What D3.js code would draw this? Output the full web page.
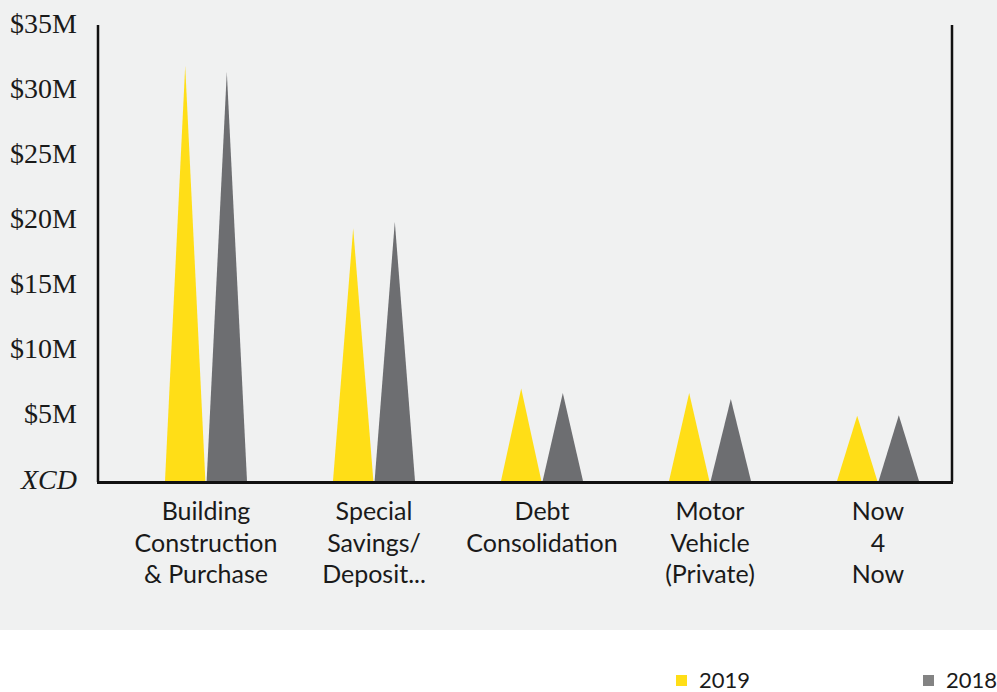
<!DOCTYPE html>
<html>
<head>
<meta charset="utf-8">
<script src="https://cdn.jsdelivr.net/npm/d3@7"></script>
<style>
  html, body { margin: 0; padding: 0; background: #ffffff; }
  svg { display: block; }
</style>
</head>
<body>
<div id="chart"></div>
<script>
// Loan purpose totals, in millions of XCD
const categories = [
  ["Building", "Construction", "& Purchase"],
  ["Special", "Savings/", "Deposit..."],
  ["Debt", "Consolidation"],
  ["Motor", "Vehicle", "(Private)"],
  ["Now", "4", "Now"]
];
const seriesNames = ["2019", "2018"];
const values2019 = [31.85, 19.4, 7.1, 6.75, 5.0];
const values2018 = [31.4, 19.9, 6.75, 6.3, 5.05];
const yTicks = [0, 5, 10, 15, 20, 25, 30, 35];
const yTickLabels = ["XCD", "$5M", "$10M", "$15M", "$20M", "$25M", "$30M", "$35M"];
const seriesColors = ["#ffde17", "#6d6e71"];
const legendColors = ["#ffde17", "#838383"];

const W = 997, H = 692;
const plotLeft = 98, plotRight = 952, plotTop = 25, plotBottom = 481;

const svg = d3.select("#chart").append("svg")
  .attr("width", W).attr("height", H);

// panel background
svg.append("rect").attr("x", 0).attr("y", 0)
  .attr("width", W).attr("height", 630).attr("fill", "#f0f1f1");

const catKeys = categories.map(c => c.join(" "));
const x = d3.scalePoint().domain(catKeys).range([206, 878]);
const xs = d3.scaleBand().domain(seriesNames).range([-41, 41]).paddingInner(0.03);
const y = d3.scaleLinear().domain([0, 35]).range([plotBottom, plotTop]);

const rows = catKeys.map((k, i) => ({
  key: k,
  vals: [values2019[i], values2018[i]]
}));

// triangular "spike" marks
const tri = svg.append("g");
rows.forEach(r => {
  seriesNames.forEach((s, j) => {
    const x0 = x(r.key) + xs(s);
    const x1 = x0 + xs.bandwidth();
    const xm = (x0 + x1) / 2;
    tri.append("path")
      .attr("d", `M${x0},${y(0)}L${xm},${y(r.vals[j])}L${x1},${y(0)}Z`)
      .attr("fill", seriesColors[j]);
  });
});

// y axis labels
const yAxis = d3.axisLeft(y).tickValues(yTicks)
  .tickFormat((d, i) => yTickLabels[i]).tickSize(0).tickPadding(21);
const gy = svg.append("g").attr("transform", `translate(${plotLeft},0)`).call(yAxis);
gy.select(".domain").remove();
gy.selectAll("text")
  .attr("font-family", "'Liberation Serif', 'Times New Roman', serif")
  .attr("font-size", 28).attr("fill", "#1a1a1a")
  .attr("dy", null).attr("y", 7)
  .attr("font-style", (d) => d === 0 ? "italic" : "normal");

// frame: left, right and baseline
const frame = svg.append("g").attr("stroke", "#111").attr("fill", "none");
frame.append("line").attr("x1", plotLeft).attr("x2", plotLeft)
  .attr("y1", y(35)).attr("y2", plotBottom + 1).attr("stroke-width", 2.5);
frame.append("line").attr("x1", plotRight).attr("x2", plotRight)
  .attr("y1", y(35)).attr("y2", plotBottom + 1).attr("stroke-width", 2.5);
frame.append("line").attr("x1", plotLeft - 1).attr("x2", plotRight + 1)
  .attr("y1", plotBottom + 1.5).attr("y2", plotBottom + 1.5).attr("stroke-width", 3);

// category labels
const xl = svg.append("g")
  .attr("font-family", "Lato, 'Open Sans', sans-serif")
  .attr("font-size", 25).attr("fill", "#1a1a1a").attr("text-anchor", "middle");
categories.forEach((lines, i) => {
  const t = xl.append("text").attr("x", x(catKeys[i])).attr("y", 520);
  lines.forEach((ln, j) => {
    t.append("tspan").attr("x", x(catKeys[i])).attr("y", 520 + j * 31.5).text(ln);
  });
});

// legend
const legendX = [676, 923];
const lg = svg.append("g");
seriesNames.forEach((s, j) => {
  lg.append("rect").attr("x", legendX[j]).attr("y", 675)
    .attr("width", 11).attr("height", 11).attr("fill", legendColors[j]);
  lg.append("text").attr("x", legendX[j] + 23).attr("y", 688)
    .attr("font-family", "Lato, 'Open Sans', sans-serif")
    .attr("font-size", 22).attr("fill", "#1a1a1a").text(s);
});
</script>
</body>
</html>
